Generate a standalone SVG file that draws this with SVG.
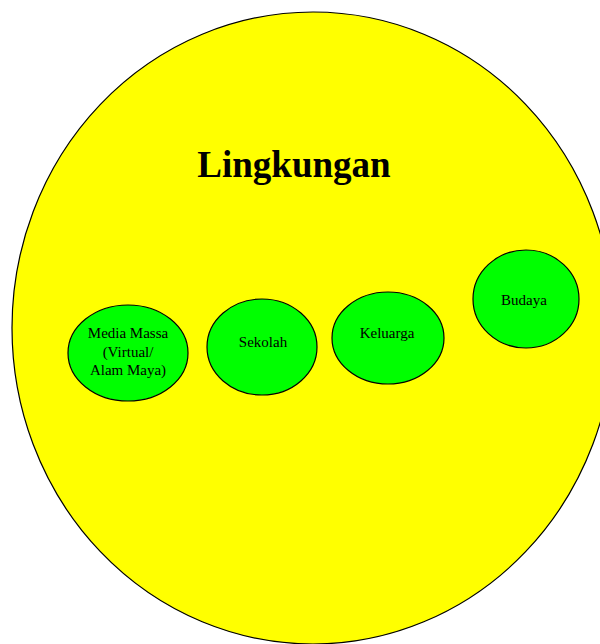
<svg xmlns="http://www.w3.org/2000/svg" width="600" height="644" viewBox="0 0 600 644">
  <style>
    .env { fill: #ffff00; stroke: #000; stroke-width: 1.2; }
    .item { fill: #00ff00; stroke: #000; stroke-width: 1.2; }
    .label { font-family: "Liberation Serif", "Times New Roman", serif; font-size: 15px; fill: #000; text-anchor: middle; }
    .title { font-family: "Liberation Serif", "Times New Roman", serif; font-size: 37px; font-weight: bold; fill: #000; text-anchor: middle; }
  </style>
  <rect width="600" height="644" fill="#fff"/>

  <g id="lingkungan">
    <ellipse class="env" cx="313" cy="328" rx="301" ry="316"/>
    <text class="title" x="294" y="177">Lingkungan</text>
  </g>

  <g id="media-massa">
    <ellipse class="item" cx="128" cy="353" rx="60" ry="48"/>
    <text class="label" x="128" y="338">Media Massa</text>
    <text class="label" x="128" y="357">(Virtual/</text>
    <text class="label" x="128" y="375">Alam Maya)</text>
  </g>

  <g id="sekolah">
    <ellipse class="item" cx="262" cy="347" rx="55" ry="48"/>
    <text class="label" x="263" y="347">Sekolah</text>
  </g>

  <g id="keluarga">
    <ellipse class="item" cx="388" cy="338" rx="56" ry="46"/>
    <text class="label" x="387" y="338">Keluarga</text>
  </g>

  <g id="budaya">
    <ellipse class="item" cx="526" cy="299" rx="53" ry="49"/>
    <text class="label" x="524" y="305">Budaya</text>
  </g>

  <g id="connectors"/>
</svg>
